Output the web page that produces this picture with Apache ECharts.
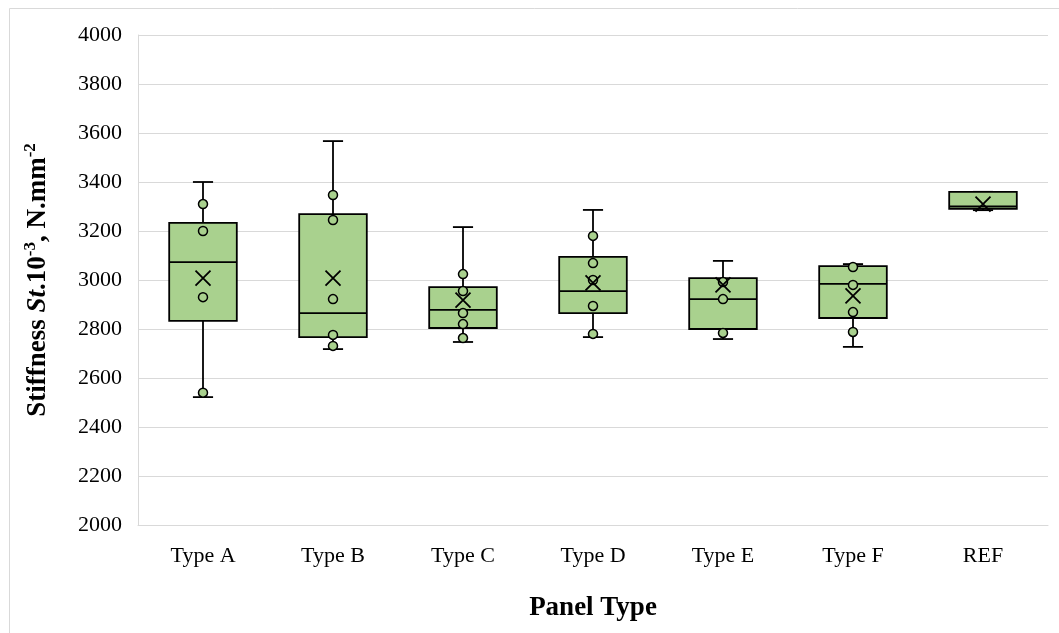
<!DOCTYPE html>
<html>
<head>
<meta charset="utf-8">
<script src="https://cdn.jsdelivr.net/npm/echarts@6/dist/echarts.min.js"></script>
<style>
html,body{margin:0;padding:0;background:#fff;}
#chart{width:1059px;height:633px;}
</style>
</head>
<body>
<div id="chart"></div>
<script>
var categories = ['Type A', 'Type B', 'Type C', 'Type D', 'Type E', 'Type F', 'REF'];
var whiskerMin = [2522, 2718, 2747, 2767, 2759, 2727, 3285];
var q1Values   = [2833, 2767, 2804, 2865, 2800, 2845, 3290];
var medians    = [3073, 2865, 2878, 2955, 2922, 2984, 3300];
var q3Values   = [3233, 3269, 2971, 3094, 3008, 3057, 3360];
var whiskerMax = [3400, 3567, 3216, 3286, 3078, 3065, 3360];
var means      = [3008, 3008, 2918, 2988, 2980, 2935, 3310];
var innerPoints = [
  [3310, 3200, 2930, 2540],
  [3347, 3245, 2922, 2776, 2731],
  [3024, 2955, 2865, 2820, 2763],
  [3180, 3069, 3000, 2894, 2780],
  [2992, 2922, 2784],
  [3053, 2980, 2869, 2788],
  []
];
var yTicks = { min: 2000, max: 4000, interval: 200 };

var boxData = categories.map(function (c, i) {
  return [i, whiskerMin[i], q1Values[i], medians[i], q3Values[i], whiskerMax[i]];
});
var pointData = [];
innerPoints.forEach(function (arr, i) { arr.forEach(function (v) { pointData.push([i, v]); }); });
var meanData = means.map(function (v, i) { return [i, v]; });

var FONT = '"Liberation Serif", "Times New Roman", serif';
var chart = echarts.init(document.getElementById('chart'), null, { renderer: 'canvas' });

function renderBox(params, api) {
  var x = api.value(0);
  var lo = api.coord([x, api.value(1)]);
  var q1 = api.coord([x, api.value(2)]);
  var med = api.coord([x, api.value(3)]);
  var q3 = api.coord([x, api.value(4)]);
  var hi = api.coord([x, api.value(5)]);
  var bw = api.size([1, 0])[0] * 0.52;
  var cw = api.size([1, 0])[0] * 0.155;
  var cx = lo[0];
  var ls = { stroke: '#000', lineWidth: 1.8, fill: null };
  return {
    type: 'group',
    children: [
      { type: 'line', shape: { x1: cx, y1: q3[1], x2: cx, y2: hi[1] }, style: ls },
      { type: 'line', shape: { x1: cx, y1: q1[1], x2: cx, y2: lo[1] }, style: ls },
      { type: 'line', shape: { x1: cx - cw / 2, y1: hi[1], x2: cx + cw / 2, y2: hi[1] }, style: ls },
      { type: 'line', shape: { x1: cx - cw / 2, y1: lo[1], x2: cx + cw / 2, y2: lo[1] }, style: ls },
      { type: 'rect', shape: { x: cx - bw / 2, y: q3[1], width: bw, height: q1[1] - q3[1] },
        style: { fill: '#a9d18e', stroke: '#000', lineWidth: 1.8 } },
      { type: 'line', shape: { x1: cx - bw / 2, y1: med[1], x2: cx + bw / 2, y2: med[1] }, style: ls }
    ]
  };
}

chart.setOption({
  animation: false,
  backgroundColor: '#fff',
  graphic: [{
    type: 'rect', left: 7, top: 6, shape: { width: 1100, height: 700 },
    style: { fill: null, stroke: '#d9d9d9', lineWidth: 1 }, z: -1
  }],
  grid: { left: 138, right: 11, top: 35, bottom: 108, containLabel: false },
  xAxis: {
    type: 'category',
    data: categories,
    axisLine: { show: true, lineStyle: { color: '#d9d9d9', width: 1 } },
    axisTick: { show: false },
    axisLabel: { color: '#000', fontFamily: FONT, fontSize: 22, margin: 20 },
    name: 'Panel Type',
    nameLocation: 'middle',
    nameGap: 70,
    nameTextStyle: { color: '#000', fontFamily: FONT, fontSize: 27, fontWeight: 'bold' },
    splitLine: { show: false }
  },
  yAxis: {
    type: 'value',
    min: yTicks.min, max: yTicks.max, interval: yTicks.interval,
    axisLine: { show: true, lineStyle: { color: '#d9d9d9', width: 1 } },
    axisTick: { show: false },
    axisLabel: { color: '#000', fontFamily: FONT, fontSize: 22, margin: 16,
      formatter: function (v) { return String(v); } },
    splitLine: { show: true, lineStyle: { color: '#d9d9d9', width: 1 } },
    name: '{a|Stiffness }{i|St}{a|.10}{s|-3}{a|, N.mm}{s|-2}',
    nameLocation: 'middle',
    nameGap: 86,
    nameTextStyle: {
      color: '#000', fontFamily: FONT, fontSize: 27, fontWeight: 'bold',
      rich: {
        a: { fontFamily: FONT, fontSize: 27, fontWeight: 'bold', color: '#000', lineHeight: 30, verticalAlign: 'bottom' },
        i: { fontFamily: FONT, fontSize: 27, fontWeight: 'bold', fontStyle: 'italic', color: '#000', lineHeight: 30, verticalAlign: 'bottom' },
        s: { fontFamily: FONT, fontSize: 17, fontWeight: 'bold', color: '#000', lineHeight: 24, verticalAlign: 'top' }
      }
    }
  },
  series: [
    {
      type: 'custom',
      renderItem: renderBox,
      data: boxData,
      encode: { x: 0, y: [1, 2, 3, 4, 5] },
      z: 2
    },
    {
      type: 'scatter',
      data: pointData,
      symbol: 'circle',
      symbolSize: 9,
      itemStyle: { color: '#a9d18e', borderColor: '#000', borderWidth: 1.5, opacity: 1 },
      z: 4
    },
    {
      type: 'scatter',
      data: meanData,
      symbol: 'path://M0,0L10,10M10,0L0,10',
      symbolSize: 15,
      itemStyle: { color: 'rgba(0,0,0,0)', borderColor: '#000', borderWidth: 1.8, opacity: 1 },
      z: 5
    }
  ]
});
</script>
</body>
</html>
